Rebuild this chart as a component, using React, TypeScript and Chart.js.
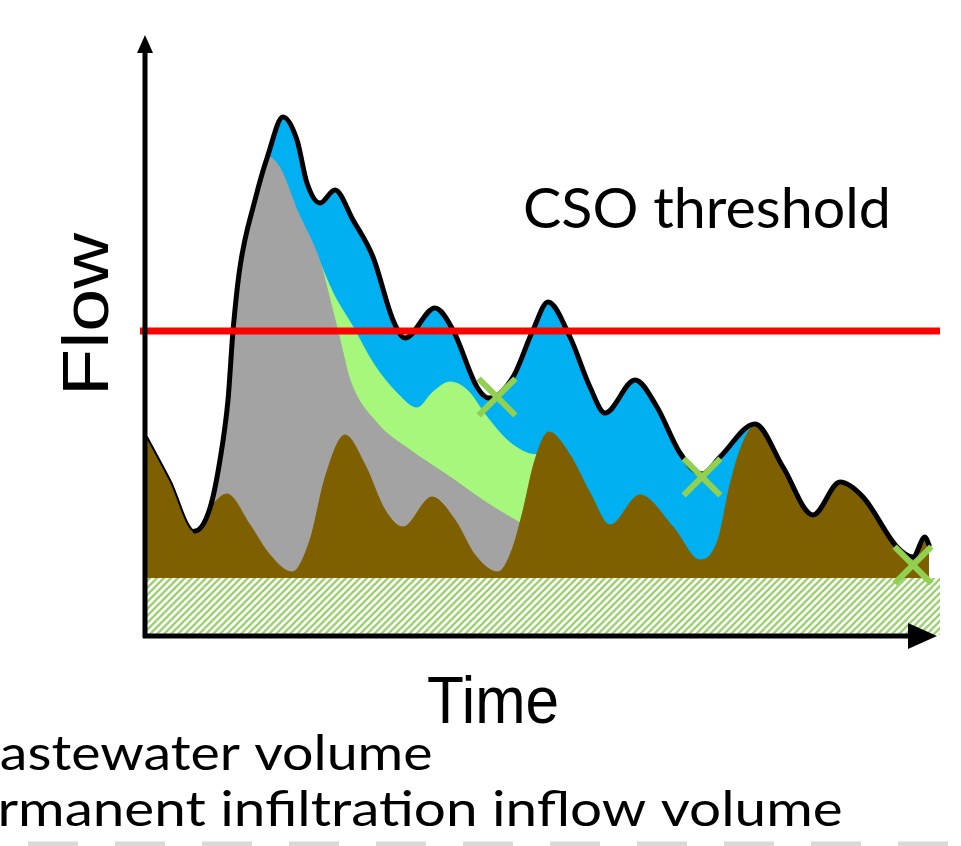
import React, { useEffect, useRef } from "react";
import { Chart, registerables } from "chart.js";

Chart.register(...registerables);

const totalTime = [0, 23, 48, 63, 73, 81, 86, 93, 108, 121, 136, 150, 160, 173, 188, 206, 226, 246, 258, 288, 306, 330, 342, 366, 386, 401, 423, 443, 458, 488, 510, 533, 555, 573, 608, 636, 666, 693, 716, 750, 766, 778, 782];
const totalFlow = [198, 155, 104, 127, 175, 235, 304, 368, 435, 480, 518, 495, 452, 432, 445, 415, 378, 315, 297, 327, 305, 248, 237, 258, 305, 333, 298, 248, 222, 255, 228, 182, 161, 178, 211, 168, 120, 153, 138, 88, 78, 98, 90];

const wastewaterTime = [0, 23, 48, 63, 80, 103, 123, 145, 163, 178, 198, 218, 238, 256, 285, 308, 328, 351, 365, 375, 388, 402, 423, 443, 463, 493, 526, 553, 571, 583, 595, 608, 636, 666, 693, 716, 750, 766, 778, 782];
const wastewaterFlow = [198, 155, 104, 127, 141, 110, 80, 63, 95, 157, 200, 170, 125, 108, 138, 115, 80, 63, 85, 120, 175, 203, 180, 142, 110, 140, 108, 75, 95, 150, 190, 209, 168, 120, 153, 138, 88, 78, 98, 90];

const runoffTime = [48, 63, 73, 81, 86, 93, 108, 121, 133, 150, 173, 183, 193, 203, 230, 263, 303, 340, 373];
const runoffFlow = [104, 127, 175, 235, 304, 368, 430, 478, 467, 425, 373, 335, 295, 255, 212, 185, 158, 132, 112];

const interflowTime = [171, 186, 206, 226, 250, 270, 286, 303, 320, 340, 360, 380, 391];
const interflowFlow = [377, 342, 308, 272, 242, 227, 243, 253, 245, 218, 195, 182, 180];

const markerTime = [350, 555, 766];
const markerFlow = [238, 158, 70];

const thresholdFlow = 304;
const infiltrationFlow = 57;
const axisStart = -7;
const axisEnd = 793;

const legendLines = ["astewater volume", "rmanent infiltration inflow volume"];

const zip = (t: number[], q: number[]) => t.map((x, i) => ({ x, y: q[i] }));

function drawFit(ctx: CanvasRenderingContext2D, text: string, left: number, baseline: number, inkWidth: number, font: string) {
  ctx.font = font;
  const m = ctx.measureText(text);
  const w = m.actualBoundingBoxLeft + m.actualBoundingBoxRight;
  const s = inkWidth / w;
  ctx.save();
  ctx.translate(left + m.actualBoundingBoxLeft * s, baseline);
  ctx.scale(s, 1);
  ctx.textAlign = "left";
  ctx.textBaseline = "alphabetic";
  ctx.fillText(text, 0, 0);
  ctx.restore();
}

export default function App() {
  const ref = useRef<HTMLCanvasElement>(null);

  useEffect(() => {
    const canvas = ref.current!;
    const pc = document.createElement("canvas");
    pc.width = 7;
    pc.height = 7;
    const p = pc.getContext("2d")!;
    p.fillStyle = "#ffffff";
    p.fillRect(0, 0, 7, 7);
    p.strokeStyle = "#9cd170";
    p.lineWidth = 2.3;
    p.beginPath();
    p.moveTo(0, 7); p.lineTo(7, 0);
    p.moveTo(-3.5, 3.5); p.lineTo(3.5, -3.5);
    p.moveTo(3.5, 10.5); p.lineTo(10.5, 3.5);
    p.stroke();
    const hatch = canvas.getContext("2d")!.createPattern(pc, "repeat")!;

    const overlay = {
      id: "overlay",
      afterDatasetsDraw(chart: any) {
        const ctx: CanvasRenderingContext2D = chart.ctx;
        const xs = chart.scales.x;
        const ys = chart.scales.y;
        const ax = xs.getPixelForValue(-2);
        const ay = ys.getPixelForValue(-1);
        ctx.save();
        ctx.strokeStyle = "#000";
        ctx.fillStyle = "#000";
        ctx.lineWidth = 5;
        ctx.beginPath();
        ctx.moveTo(ax, ay + 2);
        ctx.lineTo(ax, ys.getPixelForValue(585));
        ctx.moveTo(ax - 2, ay);
        ctx.lineTo(xs.getPixelForValue(765), ay);
        ctx.stroke();
        const topY = ys.getPixelForValue(600);
        ctx.beginPath();
        ctx.moveTo(ax, topY);
        ctx.lineTo(ax - 8, topY + 18);
        ctx.lineTo(ax + 8, topY + 18);
        ctx.closePath();
        ctx.fill();
        const tipX = xs.getPixelForValue(790);
        ctx.beginPath();
        ctx.moveTo(tipX, ay);
        ctx.lineTo(tipX - 29, ay - 13);
        ctx.lineTo(tipX - 29, ay + 13);
        ctx.closePath();
        ctx.fill();
        ctx.restore();
      },
      afterDraw(chart: any) {
        const ctx: CanvasRenderingContext2D = chart.ctx;
        ctx.save();
        ctx.fillStyle = "#000";
        drawFit(ctx, "CSO threshold", 525, 228, 362, "57px Lato");
        drawFit(ctx, "Time", 428, 723, 129, "67px 'Liberation Sans'");
        ctx.save();
        ctx.translate(108, 390);
        ctx.rotate(-Math.PI / 2);
        drawFit(ctx, "Flow", 0, 0, 158, "64px 'Liberation Sans'");
        ctx.restore();
        drawFit(ctx, legendLines[0], 1, 770, 430, "48px Lato");
        drawFit(ctx, legendLines[1], 1, 826, 840, "48px Lato");
        ctx.strokeStyle = "#d9d9d9";
        ctx.lineWidth = 5;
        ctx.setLineDash([50, 37]);
        ctx.beginPath();
        ctx.moveTo(28, 844);
        ctx.lineTo(961, 844);
        ctx.stroke();
        ctx.restore();
      },
    };

    const area = (label: string, data: any[], color: string, order: number) => ({
      label,
      data,
      order,
      borderColor: color,
      borderWidth: 1,
      backgroundColor: color,
      fill: { value: infiltrationFlow },
      cubicInterpolationMode: "monotone" as const,
      pointRadius: 0,
    });

    const chart = new Chart(canvas, {
      type: "line",
      data: {
        datasets: [
          area("Total", zip(totalTime, totalFlow), "#00b0f0", 7),
          area("Interflow", zip(interflowTime, interflowFlow), "#a6f77c", 6),
          area("Runoff", zip(runoffTime, runoffFlow), "#a3a3a3", 5),
          area("Wastewater volume", zip(wastewaterTime, wastewaterFlow), "#7f6000", 4),
          {
            label: "Permanent infiltration inflow volume",
            data: [{ x: 0, y: infiltrationFlow }, { x: axisEnd, y: infiltrationFlow }],
            order: 3,
            borderColor: "rgba(0,0,0,0)",
            borderWidth: 1,
            backgroundColor: hatch,
            fill: "origin",
            pointRadius: 0,
          },
          {
            label: "Outline",
            data: zip(totalTime, totalFlow),
            order: 2,
            borderColor: "#000",
            borderWidth: 5,
            borderCapStyle: "round",
            borderJoinStyle: "round",
            fill: false,
            cubicInterpolationMode: "monotone",
            pointRadius: 0,
            segment: { borderWidth: (c: any) => (c.p1.parsed.x <= 48 ? 2 : 5) },
          },
          {
            label: "CSO threshold",
            data: [{ x: axisStart, y: thresholdFlow }, { x: axisEnd, y: thresholdFlow }],
            order: 1,
            borderColor: "#ff0000",
            borderWidth: 7,
            fill: false,
            pointRadius: 0,
          },
          {
            label: "Markers",
            data: zip(markerTime, markerFlow),
            order: 0,
            showLine: false,
            pointStyle: "crossRot",
            pointRadius: 26,
            pointBorderWidth: 6,
            pointBorderColor: "#92d050",
            pointBackgroundColor: "#92d050",
          },
        ] as any,
      },
      options: {
        responsive: false,
        animation: false,
        devicePixelRatio: 1,
        events: [],
        layout: { autoPadding: false, padding: { left: 140, right: 14, top: 30, bottom: 206 } },
        scales: {
          x: { type: "linear", min: -7, max: 800, display: false },
          y: { type: "linear", min: -5, max: 605, display: false },
        },
        plugins: { legend: { display: false }, tooltip: { enabled: false }, title: { display: false } },
      },
      plugins: [overlay],
    });
    return () => chart.destroy();
  }, []);

  return (
    <div style={{ position: "fixed", left: 0, top: 0, width: 961, height: 846, background: "#fff" }}>
      <canvas ref={ref} width={961} height={846} style={{ display: "block", width: 961, height: 846 }} />
    </div>
  );
}
